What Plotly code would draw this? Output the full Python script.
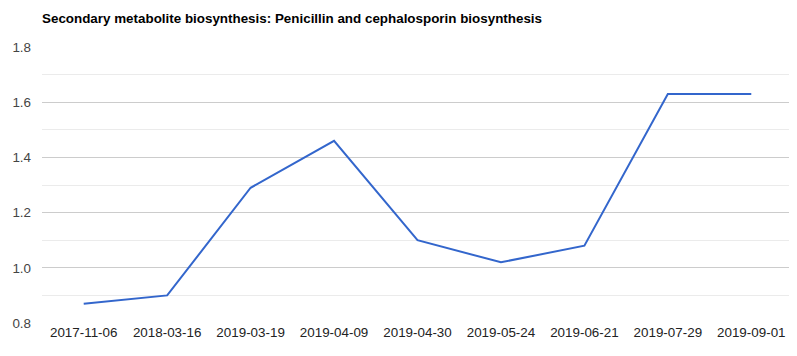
import plotly.graph_objects as go

dates = ["2017-11-06", "2018-03-16", "2019-03-19", "2019-04-09", "2019-04-30",
         "2019-05-24", "2019-06-21", "2019-07-29", "2019-09-01"]
values = [0.87, 0.90, 1.29, 1.46, 1.10, 1.02, 1.08, 1.63, 1.63]
y_ticks = [0.8, 1.0, 1.2, 1.4, 1.6, 1.8]

fig = go.Figure()
fig.add_trace(go.Scatter(x=dates, y=values, mode="lines",
                         line=dict(color="#3366cc", width=2), hoverinfo="x+y"))

W, H = 789, 348
fig.update_layout(
    width=W, height=H,
    margin=dict(l=31, r=4, t=39, b=33),
    paper_bgcolor="white", plot_bgcolor="white",
    font=dict(family="Liberation Sans, Arial", size=13.4, color="#444444"),
    showlegend=False,
    title=dict(text="<b>Secondary metabolite biosynthesis: Penicillin and cephalosporin biosynthesis</b>",
               x=0, xref="paper", xanchor="left", y=1 - 10 / H, yanchor="middle", yref="container",
               font=dict(size=13.4, color="#000000")),
)
fig.update_xaxes(type="category", range=[-0.5, 8.5], showgrid=False, zeroline=False,
                 showline=False, ticks="", tickfont=dict(size=13.4, color="#222222"))
fig.update_yaxes(range=[0.8, 1.8], tickvals=y_ticks, ticktext=[f"{v:.1f}" for v in y_ticks],
                 showgrid=True, gridcolor="#cccccc", gridwidth=1, zeroline=False,
                 showline=False, ticks="", ticklabelstandoff=10,
                 tickfont=dict(size=13.4, color="#444444"),
                 minor=dict(dtick=0.1, tick0=0.8, showgrid=True, gridcolor="#ebebeb", gridwidth=1))

fig.write_html("out.html")
